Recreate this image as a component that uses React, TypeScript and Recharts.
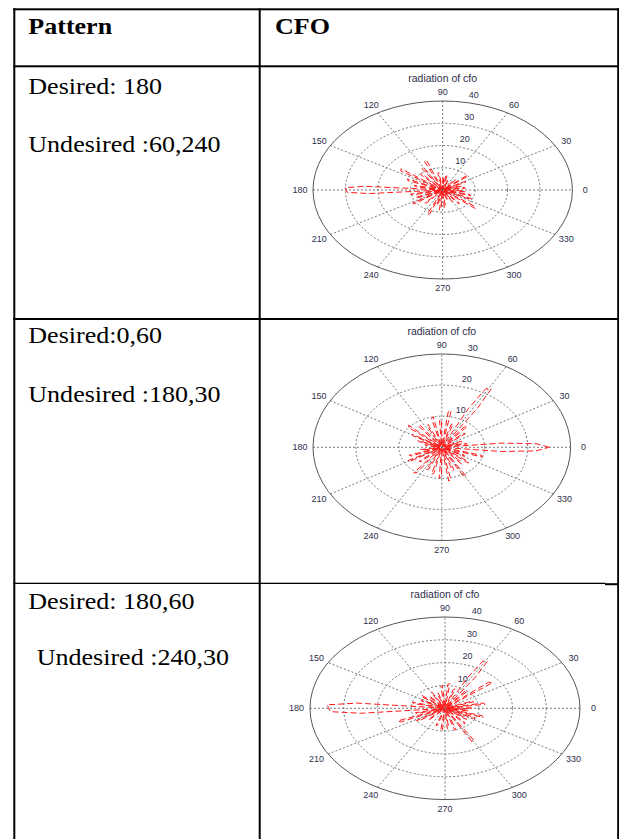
import { LineChart, Line, XAxis, YAxis, Customized } from "recharts";

// table text
const headers = ["Pattern", "CFO"];
const rowDesired = ["Desired: 180", "Desired:0,60", "Desired: 180,60"];
const rowUndesired = ["Undesired :60,240", "Undesired :180,30", "Undesired :240,30"];

// polar grid ticks
const angleTicks = [0, 30, 60, 90, 120, 150, 180, 210, 240, 270, 300, 330];
const rings40 = [10, 20, 30, 40];
const rings30 = [10, 20, 30];

// [angle (deg), magnitude]
const pattern1: [number, number][] = [
  [0, 0.5], [6.5, 7], [9.5, 6.8], [13, 0.5], [16.5, 6], [19.5, 5.8], [23, 0.5],
  [26.5, 8], [29.5, 7.7], [34, 0.5], [38.5, 10], [41.5, 9.6], [45, 0.5],
  [48.5, 6], [51.5, 5.7], [55, 0.5], [60, 1.2], [65, 0.5], [68.5, 5], [71.5, 4.8], [75, 0.5],
  [78.5, 7], [81.5, 6.7], [84, 0.5], [86.5, 6], [89.5, 5.8], [94, 0.5],
  [98.5, 8], [101.5, 7.6], [106, 0.5], [110.5, 14.5], [113.5, 14], [117, 0.5],
  [120.5, 12], [123.5, 11.5], [128, 0.5], [131.5, 10], [134.5, 9.6], [139, 0.5],
  [143.5, 16], [146.5, 15.4], [151, 0.5], [155.5, 12], [158.5, 11.5], [163, 0.5],
  [166.5, 9], [169.5, 8.6], [174, 0.5], [176, 24], [178, 30], [182, 29.5], [184, 23], [186, 0.5],
  [190.5, 10], [193.5, 9.6], [198, 0.5], [201.5, 9], [204.5, 8.6], [209, 0.5],
  [212.5, 11], [215.5, 10.6], [221, 0.5], [226.5, 8], [229.5, 7.6], [235, 0.5],
  [240, 1.2], [244, 0.5], [246.5, 12], [249.5, 11.5], [252, 0.5],
  [254.5, 7], [257.5, 6.7], [261, 0.5], [263.5, 9], [266.5, 8.6], [270, 0.5],
  [273.5, 8], [276.5, 7.7], [282, 0.5], [286.5, 5], [289.5, 4.8], [295, 0.5],
  [298.5, 6], [301.5, 5.7], [305, 0.5], [308.5, 8], [311.5, 7.7], [316, 0.5],
  [320.5, 13], [323.5, 12.5], [329, 0.5], [333.5, 10], [336.5, 9.6], [340, 0.5],
  [343.5, 9], [346.5, 8.6], [350, 0.5], [353.5, 7], [356.5, 6.7], [360, 0.5],
];

const pattern2: [number, number][] = [
  [0, 25], [3, 22], [5.5, 14], [8, 0.5], [10.5, 6], [13.5, 5.7], [17, 0.5],
  [20.5, 5], [23.5, 4.8], [27, 0.5], [30, 1], [33, 0.5],
  [38.5, 7], [41.5, 6.7], [45, 0.5], [48.5, 9], [51.5, 8.6], [54, 0.5],
  [56.5, 15], [58.5, 22], [61.5, 21.5], [63.5, 14], [66, 0.5],
  [70.5, 8], [73.5, 7.6], [76.5, 0.5], [79.5, 12], [82.5, 11.5], [86.5, 0.5],
  [90.5, 9], [93.5, 8.6], [97.5, 0.5], [101.5, 10], [104.5, 9.6], [109, 0.5],
  [113.5, 8], [116.5, 7.6], [121, 0.5], [125.5, 9], [128.5, 8.6], [133, 0.5],
  [137.5, 10.5], [140.5, 10], [145, 0.5], [148.5, 8], [151.5, 7.6], [155, 0.5],
  [158.5, 6], [161.5, 5.7], [165, 0.5], [168.5, 4], [171.5, 3.8], [175, 0.5],
  [180, 1], [185, 0.5], [188.5, 5], [191.5, 4.8], [195, 0.5],
  [198.5, 8], [201.5, 7.6], [205, 0.5], [208.5, 9], [211.5, 8.6], [216, 0.5],
  [220.5, 7], [223.5, 6.7], [228, 0.5], [231.5, 10.5], [234.5, 10], [239, 0.5],
  [243.5, 8], [246.5, 7.6], [250, 0.5], [254.5, 9], [257.5, 8.6], [262, 0.5],
  [266.5, 10], [269.5, 9.6], [274, 0.5], [278.5, 11], [281.5, 10.5], [285, 0.5],
  [288.5, 8], [291.5, 7.6], [295, 0.5], [298.5, 11], [301.5, 10.5], [306, 0.5],
  [310.5, 7], [313.5, 6.7], [317, 0.5], [320.5, 8], [323.5, 7.6], [328, 0.5],
  [331.5, 6], [334.5, 5.7], [338, 0.5], [341.5, 10], [344.5, 9.6], [350, 0.5],
  [354.5, 14], [357, 22], [360, 25],
];

const pattern3: [number, number][] = [
  [0, 8], [1.5, 7.7], [5, 0.5], [8.5, 12], [11.5, 11.5], [15, 0.5],
  [18.5, 9], [21.5, 8.6], [25, 0.5], [30, 1], [34, 0.5],
  [38.5, 18], [41.5, 17.3], [45, 0.5], [48.5, 10], [51.5, 9.6], [54, 0.5],
  [56.5, 16], [58.5, 24], [61.5, 23.5], [63.5, 15], [66, 0.5],
  [70.5, 9], [73.5, 8.6], [78, 0.5], [82.5, 11], [85.5, 10.5], [90, 0.5],
  [94.5, 10], [97.5, 9.6], [102, 0.5], [106.5, 7], [109.5, 6.7], [114, 0.5],
  [118.5, 8], [121.5, 7.6], [126, 0.5], [130.5, 7], [133.5, 6.7], [137, 0.5],
  [140.5, 9], [143.5, 8.6], [148, 0.5], [152.5, 8], [155.5, 7.6], [160, 0.5],
  [164.5, 10], [167.5, 9.6], [172, 0.5], [175, 26], [177.5, 35], [182.5, 34], [185, 25], [187.5, 0.5],
  [192.5, 9], [195.5, 8.6], [198.5, 0.5], [201.5, 15], [204.5, 14.4], [208.5, 0.5],
  [212.5, 10], [215.5, 9.6], [220, 0.5], [224.5, 7], [227.5, 6.7], [233, 0.5],
  [240, 1], [246, 0.5], [250.5, 8], [253.5, 7.6], [258, 0.5],
  [262.5, 10], [265.5, 9.6], [270, 0.5], [274.5, 9], [277.5, 8.6], [282, 0.5],
  [286.5, 10], [289.5, 9.6], [294, 0.5], [298.5, 17], [301.5, 16.3], [306, 0.5],
  [310.5, 9], [313.5, 8.6], [318, 0.5], [322.5, 8], [325.5, 7.6], [329, 0.5],
  [332.5, 10], [335.5, 9.6], [338, 0.5], [340.5, 12], [343.5, 11.5], [347, 0.5],
  [350.5, 7], [353.5, 6.7], [356, 0.5], [358.5, 8], [360, 8],
];

const RAD = Math.PI / 180;
const M = { top: 40, right: 30, bottom: 30, left: 30 };
const labelColor = "#2e2e4a";

function PolarFrame({ a, b, rings }: { a: number; b: number; rings: number[] }) {
  const ox = M.left + a;
  const oy = M.top + b;
  const max = rings[rings.length - 1];
  const font = { fontFamily: "'Liberation Sans', Arial, sans-serif", fill: labelColor };
  return (
    <g>
      {rings.slice(0, -1).map((r) => (
        <ellipse key={r} cx={ox} cy={oy} rx={(a * r) / max} ry={(b * r) / max}
          fill="none" stroke="#555" strokeWidth={0.8} strokeDasharray="2 2" />
      ))}
      {angleTicks.filter((t) => t < 180).map((t) => (
        <line key={t} x1={ox - a * Math.cos(t * RAD)} y1={oy + b * Math.sin(t * RAD)}
          x2={ox + a * Math.cos(t * RAD)} y2={oy - b * Math.sin(t * RAD)}
          stroke="#555" strokeWidth={0.8} strokeDasharray="2 2" />
      ))}
      <ellipse cx={ox} cy={oy} rx={a} ry={b} fill="none" stroke="#555" strokeWidth={1} />
      {angleTicks.map((t) => (
        <text key={t} x={ox + 1.1 * a * Math.cos(t * RAD)} y={oy - 1.1 * b * Math.sin(t * RAD)}
          dy="0.35em" textAnchor="middle" fontSize={9} {...font}>{t}</text>
      ))}
      {rings.map((r) => (
        <text key={r} x={ox + ((a * r) / max) * Math.cos(82 * RAD) + 13}
          y={oy - ((b * r) / max) * Math.sin(82 * RAD) - 7}
          dy="0.35em" textAnchor="middle" fontSize={9} {...font}>{r}</text>
      ))}
      <text x={ox} y={oy - b - 23} dy="0.35em" textAnchor="middle" fontSize={10.5} {...font}>
        radiation of cfo
      </text>
    </g>
  );
}

function PolarPanel({ cx, cy, a, b, rings, pattern }: {
  cx: number; cy: number; a: number; b: number; rings: number[]; pattern: [number, number][];
}) {
  const max = rings[rings.length - 1];
  const data = pattern.map(([deg, r]) => ({ x: r * Math.cos(deg * RAD), y: r * Math.sin(deg * RAD) }));
  return (
    <div style={{ position: "absolute", left: cx - a - M.left, top: cy - b - M.top }}>
      <LineChart width={2 * a + M.left + M.right} height={2 * b + M.top + M.bottom} data={data} margin={M}>
        <XAxis type="number" dataKey="x" domain={[-max, max]} hide allowDataOverflow />
        <YAxis type="number" domain={[-max, max]} hide allowDataOverflow />
        <Customized component={<PolarFrame a={a} b={b} rings={rings} />} />
        <Line dataKey="y" type="linear" stroke="#ff1a1a" strokeWidth={1} strokeDasharray="6 3"
          dot={false} activeDot={false} isAnimationActive={false} />
      </LineChart>
    </div>
  );
}

const serif = "'Liberation Serif', 'Times New Roman', serif";

function CellText({ x, y, text, bold }: { x: number; y: number; text: string; bold?: boolean }) {
  return (
    <text transform={`translate(${x},${y}) scale(1.085,1)`} fontFamily={serif} fontSize={24}
      fontWeight={bold ? 700 : 400} fill="#000">{text}</text>
  );
}

export default function App() {
  return (
    <div style={{ position: "absolute", left: 0, top: 0, width: 619, height: 839, background: "#fff", overflow: "hidden" }}>
      <svg width={619} height={839} style={{ position: "absolute", left: 0, top: 0 }}>
        <rect x={13.3} y={8.3} width={605.7} height={2} fill="#000" />
        <rect x={13.3} y={8.3} width={2} height={831} fill="#000" />
        <rect x={258.7} y={8.3} width={2} height={831} fill="#000" />
        <rect x={617.2} y={8.3} width={1.8} height={831} fill="#000" />
        <rect x={13.3} y={65.3} width={605.7} height={2} fill="#000" />
        <rect x={13.3} y={318} width={605.7} height={2} fill="#000" />
        <rect x={13.3} y={582.7} width={592} height={1.3} fill="#000" />
        <rect x={605} y={583.2} width={14} height={2} fill="#000" />
        <CellText x={28.3} y={34.3} text={headers[0]} bold />
        <CellText x={275} y={34.3} text={headers[1]} bold />
        <CellText x={28.3} y={94.3} text={rowDesired[0]} />
        <CellText x={28.3} y={151.7} text={rowUndesired[0]} />
        <CellText x={28.3} y={343.3} text={rowDesired[1]} />
        <CellText x={28.3} y={401.7} text={rowUndesired[1]} />
        <CellText x={28.3} y={609} text={rowDesired[2]} />
        <CellText x={36.7} y={665} text={rowUndesired[2]} />
      </svg>
      <PolarPanel cx={442.7} cy={190} a={129.7} b={89} rings={rings40} pattern={pattern1} />
      <PolarPanel cx={441.7} cy={447.7} a={128.8} b={93.3} rings={rings30} pattern={pattern2} />
      <PolarPanel cx={445} cy={708.3} a={135} b={91.3} rings={rings40} pattern={pattern3} />
    </div>
  );
}
